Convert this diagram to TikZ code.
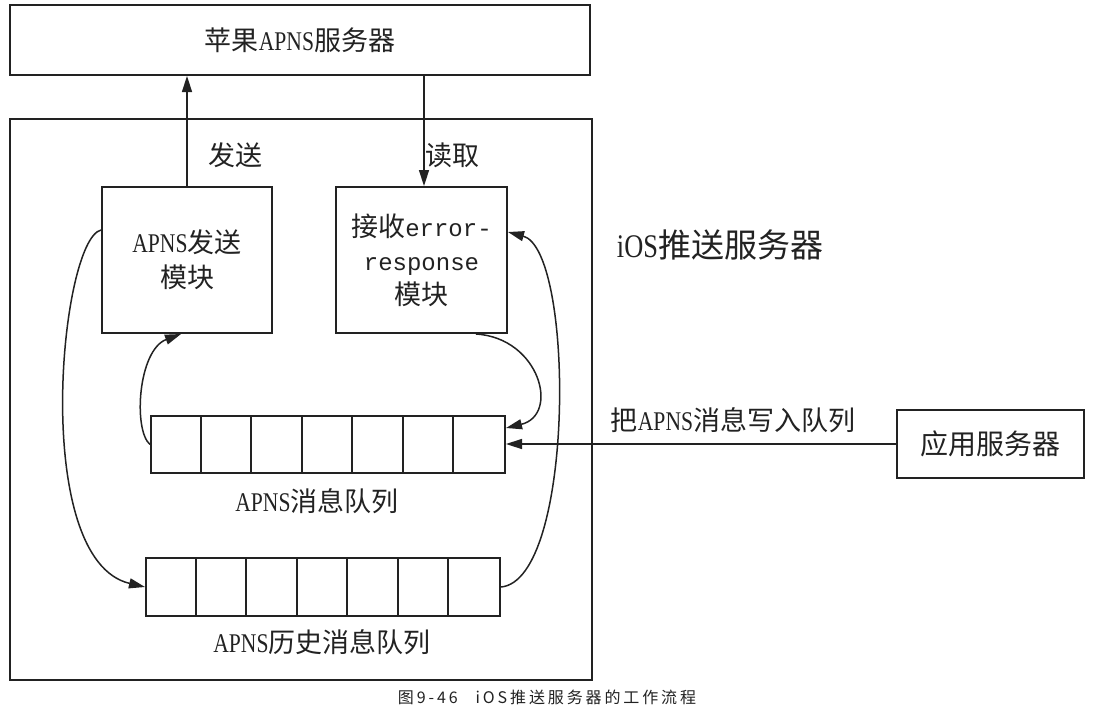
\documentclass[tikz,border=0pt]{standalone}
\usepackage{fontspec}
\setmainfont[FakeStretch=0.8]{Liberation Serif}
\setmonofont{Liberation Mono}
\newfontfamily\cjk{Noto Sans CJK SC}
\newfontfamily\capfont[LetterSpace=18]{Noto Sans CJK SC}
\usetikzlibrary{arrows.meta}
\newcommand\zh[1]{{\cjk #1}}
\definecolor{lc}{HTML}{222222}
\tikzset{
  box/.style={draw=lc, line width=2pt, inner sep=0pt, text=lc},
  arr/.style={-{Triangle[length=16pt,width=10pt]}, line width=1.5pt, draw=lc},
  lab/.style={text=lc, inner sep=0pt},
  f27/.style={font=\fontsize{27}{35}\selectfont},
}
\begin{document}
\begin{tikzpicture}[x=1pt,y=-1pt]
\fill[white] (0,0) rectangle (1094,712);
\useasboundingbox (0,0) rectangle (1094,712);

% boxes
\node[box, f27, minimum width=580pt, minimum height=70pt] (apple) at (300,40) {\zh{苹果}APNS\zh{服务器}};
\node[box, minimum width=582pt, minimum height=561pt] (ios) at (301,399.5) {};
\node[box, f27, align=center, minimum width=170pt, minimum height=146pt] (send) at (187,260) {APNS\zh{发送}\\\zh{模块}};
\node[box, font=\fontsize{27}{34}\selectfont, align=center, minimum width=171pt, minimum height=146pt] (recv) at (421.5,260)
  {\zh{接收}{\ttfamily\fontsize{24}{34}\selectfont error-}\\{\ttfamily\fontsize{24}{34}\selectfont response}\\\zh{模块}};
\node[box, font=\fontsize{28}{28}\selectfont, minimum width=187pt, minimum height=68pt] (app) at (990.5,444) {\zh{应用服务器}};

% queues
\node[box, minimum width=354pt, minimum height=57pt] (q1) at (328,444.5) {};
\foreach \i in {1,...,6}
  \draw[line width=2pt, lc] ([xshift=\i*50.571pt]q1.north west) -- ([xshift=\i*50.571pt]q1.south west);
\node[box, minimum width=354pt, minimum height=58pt] (q2) at (323,587) {};
\foreach \i in {1,...,6}
  \draw[line width=2pt, lc] ([xshift=\i*50.571pt]q2.north west) -- ([xshift=\i*50.571pt]q2.south west);

% labels
\node[lab, f27] (q1lab) at (317,501) {APNS\zh{消息队列}};
\node[lab, f27] (q2lab) at (322,642) {APNS\zh{历史消息队列}};
\node[lab, font=\fontsize{33}{33}\selectfont] (ioslab) at (720,245) {iOS\zh{推送服务器}};
\node[lab, f27] (writelab) at (733,420) {\zh{把}APNS\zh{消息写入队列}};
\node[lab, f27] (sendlab) at (235.5,155) {\zh{发送}};
\node[lab, f27] (readlab) at (452,155) {\zh{读取}};
\node[lab, font=\capfont\fontsize{16}{16}\selectfont] (caption) at (547,697) {图9-46\hspace{18pt}iOS推送服务器的工作流程};

% connectors
\coordinate (rtop) at ([xshift=2.5pt]recv.north);
\draw[arr] (send.north) -- (send.north |- apple.south);
\draw[arr] (rtop |- apple.south) -- (rtop);
\draw[arr] (app.west) -- (app.west -| q1.east);
\draw[arr] (q1.west) .. controls (133,430) and (138,350) .. ([xshift=-6pt]send.south);
\draw[arr] ([xshift=54.5pt]recv.south) .. controls (540,338) and (560,415) .. ([yshift=16.5pt]q1.east);
\draw[arr] ([yshift=30pt]send.west) .. controls (60,240) and (30,560) .. (q2.west);
\draw[arr] (q2.east) .. controls (575,580) and (575,250) .. ([yshift=28pt]recv.east);
\end{tikzpicture}
\end{document}
